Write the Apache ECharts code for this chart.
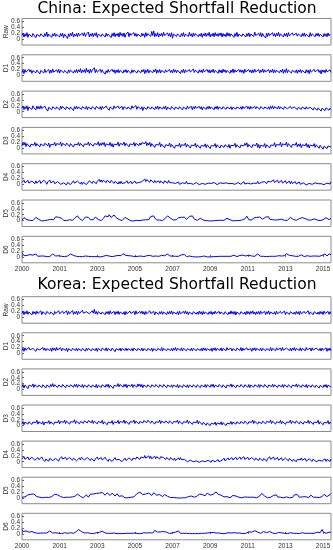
<!DOCTYPE html>
<html><head><meta charset="utf-8">
<script src="https://cdn.jsdelivr.net/npm/echarts@6/dist/echarts.min.js"></script>
<style>html,body{margin:0;padding:0;background:#fff}#c{width:333px;height:550px}</style>
</head><body><div id="c"></div>
<script>
const xTickLabels = ['2000','2001','2003','2005','2007','2009','2011','2013','2015'];
const xTickPositions = [0,38,76,114,152,190,228,266,304];
const panelNames = ['Raw','D1','D2','D3','D4','D5','D6'];
const yTicks = [0,0.2,0.4,0.6];
const groupTitles = ['China: Expected Shortfall Reduction','Korea: Expected Shortfall Reduction'];

const chinaRaw = [.12,.2,.07,.18,.1,.22,.06,.17,.11,.21,.08,.19,.13,.23,.05,.16,.1,.2,.09,.18,
.14,.22,.07,.19,.1,.24,.08,.17,.12,.2,.06,.18,.11,.21,.09,.16,.13,.22,.07,.19,
.1,.2,.05,.17,.12,.21,.02,.18,.09,.2,.11,.23,.07,.17,.1,.19,.08,.21,.12,.18,
.06,.2,.11,.22,.09,.17,.13,.24,.07,.18,.1,.2,.08,.19,.12,.22,.06,.17,.11,.21,
.09,.18,.13,.23,.07,.2,.1,.17,.12,.21,.05,.19,.1,.22,.08,.18,.11,.2,.07,.23,
.12,.19,.09,.21,.06,.17,.11,.24,.08,.2,.13,.18,.07,.22,.1,.19,.09,.17,.12,.21,
.08,.2,.11,.18,.06,.22,.1,.19,.13,.21,.09,.26,.12,.28,.08,.19,.1,.22,.07,.18,
.11,.2,.09,.23,.12,.18,.06,.21,.1,.19,.08,.22,.03,.17,.11,.2,.09,.18,.12,.21,
.07,.19,.1,.22,.08,.17,.12,.2,.09,.23,.11,.18,.07,.21,.1,.19,.13,.22,.08,.17,
.1,.2,.06,.18,.11,.21,.09,.19,.12,.23,.07,.17,.1,.2,.08,.22,.11,.18,.09,.2,
.12,.21,.07,.19,.1,.17,.08,.22,.11,.2,.09,.18,.13,.21,.06,.19,.1,.23,.08,.17,
.11,.2,.09,.18,.12,.22,.07,.19,.1,.21,.08,.17,.11,.2,.09,.24,.12,.18,.07,.2,
.1,.22,.08,.19,.11,.17,.04,.2,.09,.21,.12,.18,.07,.22,.1,.19,.08,.2,.11,.23,
.09,.18,.12,.21,.07,.19,.1,.2,.08,.22,.11,.17,.09,.21,.13,.19,.07,.2,.1,.18,
.12,.23,.08,.19,.1,.21,.09,.17,.11,.2,.07,.22,.1,.18,.12,.21,.08,.19,.11,.2,
.09,.17,.12,.22,.07,.19,.1,.18,.08,.21,.11,.17,.1];
const chinaD1 = [.1,.18,.06,.2,.11,.17,.08,.21,.12,.19,.07,.16,.1,.22,.09,.18,.13,.2,.05,.17,
.11,.19,.08,.21,.1,.16,.12,.2,.07,.18,.09,.22,.11,.17,.06,.19,.1,.21,.08,.18,
.12,.2,.09,.17,.11,.22,.07,.19,.1,.18,.13,.21,.08,.17,.1,.2,.09,.19,.12,.23,
.08,.18,.11,.2,.09,.24,.12,.19,.07,.21,.1,.18,.13,.26,.09,.2,.11,.17,.08,.21,
.1,.19,.12,.18,.04,.16,.09,.2,.11,.17,.08,.21,.12,.19,.07,.18,.1,.2,.09,.17,
.12,.21,.08,.18,.11,.2,.09,.17,.13,.22,.07,.19,.1,.18,.12,.2,.08,.17,.11,.21,
.09,.19,.12,.2,.06,.18,.1,.21,.08,.17,.11,.2,.09,.19,.12,.22,.07,.18,.1,.2,
.08,.17,.11,.21,.09,.19,.12,.18,.07,.2,.1,.17,.08,.21,.11,.19,.09,.18,.12,.2,
.06,.17,.1,.21,.08,.19,.12,.18,.09,.2,.11,.17,.07,.22,.1,.18,.12,.2,.08,.19,
.11,.18,.09,.21,.12,.17,.07,.2,.1,.19,.08,.18,.11,.21,.09,.17,.12,.2,.07,.19,
.1,.18,.08,.21,.12,.19,.09,.17,.11,.2,.07,.18,.1,.22,.09,.19,.12,.17,.08,.2,
.11,.19,.1,.18,.07,.21,.12,.17,.09,.2,.11,.18,.08,.19,.1,.21,.12,.17,.09,.2,
.08,.18,.11,.22,.1,.19,.12,.17,.07,.2,.09,.18,.11,.21,.08,.19,.1,.17,.12,.2,
.09,.18,.11,.21,.07,.19,.1,.23,.09,.18,.12,.2,.08,.17,.11,.21,.1,.19,.07,.18,
.11,.2,.09,.17,.12,.21,.08,.19,.1,.18,.06,.2,.11,.17,.09,.21,.12,.18,.08,.2,
.1,.17,.05,.19,.11,.18,.09,.2,.12,.17,.07,.19,.1];
const chinaD2 = [.12,.19,.07,.17,.1,.2,.04,.16,.11,.18,.08,.2,.13,.17,.06,.19,.1,.18,.09,.2,
.11,.17,.08,.19,.12,.18,.02,.15,.1,.19,.07,.17,.12,.2,.09,.16,.11,.18,.06,.19,
.1,.18,.12,.2,.07,.17,.11,.19,.08,.16,.12,.18,.04,.17,.1,.19,.09,.16,.12,.21,
.08,.17,.11,.19,.1,.18,.07,.16,.12,.2,.09,.17,.11,.19,.08,.18,.12,.2,.1,.17,
.07,.18,.11,.16,.09,.19,.12,.17,.05,.16,.1,.18,.08,.2,.12,.17,.09,.19,.11,.16,
.1,.18,.07,.17,.12,.19,.09,.16,.11,.18,.08,.2,.12,.17,.1,.21,.08,.17,.11,.19,
.09,.17,.04,.15,.1,.18,.08,.17,.11,.19,.09,.16,.12,.18,.07,.17,.1,.19,.08,.16,
.11,.18,.09,.17,.1,.19,.06,.15,.1,.18,.08,.17,.11,.19,.07,.16,.1,.18,.09,.17,
.12,.18,.06,.16,.1,.17,.08,.19,.11,.16,.09,.18,.07,.17,.1,.19,.12,.17,.08,.18,
.1,.17,.06,.16,.11,.18,.08,.17,.1,.19,.09,.16,.11,.18,.07,.17,.1,.19,.08,.16,
.11,.18,.09,.17,.12,.2,.08,.16,.11,.18,.1,.17,.07,.15,.11,.18,.09,.16,.12,.19,
.1,.17,.08,.18,.11,.16,.09,.19,.1,.17,.08,.18,.11,.16,.09,.18,.1,.17,.12,.19,
.08,.17,.11,.18,.09,.16,.12,.19,.1,.17,.08,.18,.11,.2,.09,.17,.12,.18,.1,.19,
.09,.16,.11,.18,.08,.17,.12,.19,.1,.16,.09,.18,.11,.17,.08,.16,.1,.18,.07,.15,
.1,.17,.08,.16,.11,.18,.09,.17,.1,.16,.07,.15,.09,.17,.06,.14,.08,.15,.05,.13,
.07,.14,.02,.12,.06,.15,.04,.13,.07,.16,.05,.12,.08];
const chinaD3 = [.08,.17,.1,.19,.05,.15,.09,.18,.03,.13,.08,.17,.1,.19,.06,.15,.09,.18,.04,.14,
.1,.18,.07,.16,.12,.2,.08,.17,.02,.12,.09,.17,.11,.19,.07,.15,.1,.18,.12,.2,
.06,.16,.1,.19,.08,.17,.12,.2,.05,.15,.09,.18,.03,.13,.08,.17,.11,.19,.07,.16,
.1,.18,.04,.14,.09,.17,.12,.2,.08,.16,.1,.18,.06,.15,.09,.17,.12,.21,.07,.16,
.09,.18,.11,.19,.05,.14,.08,.17,.1,.19,.06,.15,.03,.13,.08,.17,.11,.2,.06,.15,
.09,.18,.12,.2,.07,.16,.1,.18,.04,.14,.08,.17,.11,.19,.06,.16,.12,.21,.08,.17,
.1,.18,.12,.2,.15,.22,.08,.17,.1,.19,.05,.15,.09,.17,.02,.12,.07,.16,.1,.19,
.04,.13,.07,.16,.01,.11,.05,.15,.08,.17,.03,.12,.06,.14,-.01,.09,.04,.13,.07,.16,
.02,.11,.06,.15,.09,.17,.03,.12,.07,.15,.0,.1,.04,.13,.08,.16,.02,.11,.06,.14,
-.01,.09,.03,.12,.06,.14,.01,.11,.05,.13,-.02,.08,.03,.12,.07,.15,.01,.11,.05,.13,
.0,.1,.05,.13,.02,.11,.07,.15,.03,.12,-.01,.09,.04,.13,.08,.16,.02,.11,.06,.14,
.0,.1,.04,.13,.07,.16,.09,.18,.03,.12,.06,.14,.01,.11,.05,.13,.08,.17,.02,.12,
-.01,.09,.03,.12,.06,.15,.01,.11,.05,.13,.0,.1,.05,.14,.09,.18,.03,.12,.07,.16,
.1,.19,.04,.14,.08,.17,.11,.2,.05,.15,.09,.18,.02,.12,.07,.16,.1,.19,.04,.13,
.06,.15,.01,.11,.05,.14,.08,.16,.03,.12,.0,.1,.04,.13,.07,.15,.02,.11,.05,.13,
-.01,.09,.03,.11,-.04,.06,.01,.08,-.02,.07,.04,.12,.03];
const chinaD4 = [.06,.08,.14,.05,.05,.06,.13,.04,.04,.03,.11,.11,.1,.02,.12,.04,.04,.05,.13,.03,
.05,.06,.14,.08,.07,.0,.08,.08,.15,.05,.05,.04,.11,.02,.03,.01,.09,.08,.07,.0,
.06,-.01,.05,.04,.04,-.02,.06,.06,.07,-.01,.05,.05,.12,.04,.04,.03,.11,.1,.08,.01,
.08,.0,.07,.07,.06,-.01,.05,.05,.12,.11,.1,.03,.11,.1,.09,.02,.1,.09,.17,.08,
.15,.07,.14,.14,.13,.06,.14,.13,.12,.05,.13,.12,.11,.03,.1,.09,.08,.01,.09,.02,
.1,.03,.04,.04,.05,.05,.12,.03,.04,.02,.1,.02,.03,.03,.11,.04,.05,.05,.06,.07,
.08,.09,.1,.11,.18,.09,.16,.15,.14,.07,.15,.13,.12,.05,.13,.06,.06,.05,.12,.04,
.11,.11,.1,.03,.12,.12,.11,.04,.13,.06,.06,.05,.05,.04,.04,.03,.03,.01,.08,.0,
.06,.05,.05,-.01,.05,.03,.1,.02,.04,.03,.03,.01,.08,.0,.02,.0,.06,.05,.05,-.01,
.04,.03,.03,.01,.08,.0,.03,.02,.04,-.02,.05,.03,.04,-.01,.06,.05,.05,-.01,.04,.03,
.05,-.01,.04,.03,.04,-.02,.05,.04,.11,.02,.04,.03,.03,.01,.08,.0,.06,.06,.06,.0,
.07,.0,.03,.02,.09,.01,.04,.03,.04,.02,.1,.01,.03,.02,.04,.04,.05,.03,.1,.02,
.08,.07,.07,.01,.09,.09,.08,.02,.1,.1,.09,.08,.08,.07,.15,.06,.07,.07,.14,.05,
.06,.06,.13,.04,.05,.05,.12,.03,.04,.04,.11,.02,.1,.03,.04,.02,.09,.01,.03,.02,
.08,.0,.06,-.01,.05,.03,.04,-.02,.04,.02,.03,.01,.08,.0,.02,-.01,.05,.03,.04,.02,
.03,.01,.02,.0,.07,-.01,.05,.04,.04,.02,.1,.01,.09];
const chinaD5 = [.02,.05,.1,.07,.09,.03,.0,.02,.01,.04,.02,.0,.01,.05,.11,.08,.12,.04,.01,.0,
-.01,.01,.03,.0,.02,.05,.02,.0,.01,.04,.02,.05,.03,.07,.13,.09,.15,.11,.06,.13,
.08,.03,.01,.0,.02,.0,-.01,.01,.03,.02,.0,.01,.04,.08,.14,.1,.16,.12,.07,.03,
.01,.0,.02,.05,.12,.09,.15,.11,.06,.03,.02,.05,.03,.08,.12,.07,.1,.04,.01,.02,
.0,.03,.07,.12,.16,.11,.18,.13,.2,.15,.11,.17,.13,.19,.14,.1,.15,.08,.04,.02,
.01,.0,.03,.06,.11,.07,.09,.05,.02,.0,-.01,.01,.0,-.01,.0,.02,.01,.0,-.01,.0,
.01,.0,.02,.0,.01,.03,.02,.05,.03,.08,.14,.18,.12,.16,.09,.04,.02,.01,.0,.02,
.01,.03,.0,.02,.05,.09,.13,.16,.11,.14,.08,.12,.05,.02,.04,.01,.03,.06,.1,.12,
.08,.11,.05,.09,.12,.07,.04,.02,.09,.14,.18,.12,.16,.1,.05,.02,.0,.01,.03,.02,
.08,.11,.06,.02,.0,.01,.0,-.01,.0,-.01,.01,.0,-.01,.0,.01,.0,-.01,.0,.01,.0,
.0,.01,.0,.02,.01,.03,.06,.08,.04,.07,.03,.01,.0,-.01,.0,.01,.0,.02,.01,.0,
.01,.0,.02,.04,.01,.06,.12,.15,.09,.03,.01,.03,.02,.05,.09,.13,.08,.11,.06,.1,
.12,.07,.1,.05,.03,.06,.12,.15,.1,.13,.05,.02,.01,.03,.01,.0,.02,.0,.01,.03,
.06,.09,.05,.07,.03,.01,.0,.02,.01,.03,.07,.11,.06,.09,.04,.02,.0,.01,.03,.02,
.07,.12,.08,.1,.05,.11,.07,.09,.04,.02,.01,.0,.02,.01,.04,.06,.03,.05,.02,.0,
.01,.0,.02,.01,.03,.02,.06,.1,.07,.09,.03,.04,.08];
const chinaD6 = [.15,.09,.04,.02,.03,.05,.02,.04,.08,.05,.1,.06,.03,.07,.1,.06,.02,.04,.01,.03,
.02,.01,.03,.02,.04,.01,.02,.03,.01,.04,.07,.1,.06,.08,.03,.01,.02,.04,.01,.03,
.02,.05,.03,.01,.02,.0,.03,.01,.06,.1,.07,.11,.05,.08,.04,.02,.01,.03,.01,.0,
.02,.01,.0,.01,.03,.01,.0,.02,.01,.0,.01,.02,.0,.01,.03,.02,.01,.04,.02,.0,
.01,.03,.02,.01,.03,.05,.02,.01,.03,.02,.04,.01,.02,.0,.03,.06,.09,.05,.1,.07,
.04,.08,.11,.06,.09,.05,.07,.1,.04,.02,.01,.03,.02,.0,.01,.03,.01,.02,.04,.01,
.03,.02,.05,.01,.03,.02,.04,.01,.02,.05,.03,.01,.02,.04,.02,.03,.01,.04,.02,.01,
.03,.05,.02,.01,.04,.03,.07,.1,.06,.03,.02,.01,.03,.02,.05,.02,.01,.03,.02,.0,
.04,.07,.09,.05,.08,.03,.01,.02,.01,.03,.02,.0,.01,.02,.01,.0,.02,.01,.0,.01,
.02,.01,.0,.01,.03,.01,.02,.0,.01,.02,.0,.01,.02,.01,.0,.02,.01,.0,.01,.02,
.01,.0,.02,.01,.03,.02,.01,.0,.02,.01,.03,.02,.04,.02,.06,.03,.02,.01,.03,.02,
.05,.08,.04,.06,.1,.05,.03,.07,.09,.06,.04,.02,.03,.01,.04,.02,.05,.03,.1,.06,
.04,.02,.03,.01,.02,.04,.02,.01,.03,.05,.02,.01,.03,.02,.04,.01,.02,.03,.01,.04,
.02,.05,.03,.01,.02,.04,.08,.11,.07,.09,.05,.1,.06,.04,.09,.05,.02,.01,.03,.02,
.04,.02,.07,.04,.02,.01,.03,.02,.04,.03,.01,.02,.04,.01,.03,.02,.05,.03,.02,.04,
.02,.01,.03,.05,.02,.04,.1,.06,.03,.07,.1,.05,.08];

const koreaRaw = [.13,.21,.09,.19,.12,.22,.1,.18,.14,.23,.08,.2,.12,.19,.1,.21,.13,.18,.11,.22,
.09,.19,.13,.21,.1,.2,.14,.23,.11,.18,.12,.21,.08,.2,.13,.19,.1,.22,.12,.18,
.1,.21,.13,.19,.11,.22,.09,.2,.12,.18,.14,.23,.1,.19,.12,.21,.09,.2,.13,.18,
.11,.24,.14,.2,.1,.19,.13,.21,.12,.18,.09,.22,.14,.27,.12,.2,.1,.19,.13,.22,
.11,.18,.13,.21,.09,.19,.12,.2,.1,.22,.13,.18,.11,.2,.09,.19,.12,.21,.1,.18,
.13,.22,.11,.19,.08,.2,.12,.18,.1,.21,.13,.19,.11,.2,.09,.22,.12,.18,.1,.2,
.13,.21,.11,.19,.09,.2,.12,.18,.1,.22,.13,.19,.11,.2,.08,.18,.12,.21,.1,.19,
.12,.2,.1,.18,.13,.21,.09,.19,.11,.2,.12,.22,.1,.18,.13,.2,.11,.19,.09,.21,
.12,.18,.1,.2,.13,.22,.11,.19,.09,.18,.12,.21,.1,.19,.13,.2,.11,.18,.1,.21,
.12,.19,.09,.2,.11,.18,.13,.22,.1,.19,.12,.2,.09,.18,.11,.21,.13,.19,.1,.2,
.11,.18,.12,.21,.1,.19,.13,.2,.09,.18,.11,.22,.12,.19,.1,.2,.08,.18,.12,.21,
.1,.19,.13,.2,.11,.18,.09,.21,.12,.19,.1,.2,.13,.22,.11,.18,.09,.19,.12,.2,
.1,.21,.13,.18,.11,.2,.09,.19,.12,.22,.1,.18,.13,.2,.11,.19,.09,.21,.12,.18,
.1,.2,.13,.19,.11,.21,.09,.18,.12,.2,.1,.19,.13,.22,.11,.18,.1,.2,.12,.19,
.09,.21,.12,.18,.1,.2,.13,.19,.11,.22,.1,.18,.12,.2,.09,.19,.13,.21,.11,.18,
.1,.2,.12,.19,.09,.21,.13,.18,.11,.2,.1,.19,.12];
const koreaD1 = [.1,.17,.07,.19,.11,.16,.08,.2,.12,.18,.09,.17,.11,.21,.07,.16,.1,.19,.12,.17,
.08,.2,.11,.18,.09,.16,.12,.21,.1,.17,.07,.19,.11,.18,.09,.2,.12,.16,.1,.19,
.08,.17,.11,.2,.1,.18,.06,.16,.11,.19,.09,.17,.12,.2,.1,.18,.08,.16,.11,.19,
.09,.17,.12,.21,.08,.18,.1,.17,.11,.2,.09,.16,.12,.19,.1,.18,.07,.17,.11,.2,
.09,.18,.12,.16,.1,.19,.08,.17,.11,.2,.09,.18,.12,.17,.06,.16,.1,.19,.11,.18,
.08,.17,.12,.2,.1,.18,.09,.16,.11,.19,.1,.17,.08,.18,.12,.2,.09,.17,.11,.19,
.1,.18,.08,.16,.11,.19,.09,.17,.12,.2,.1,.18,.07,.16,.11,.19,.09,.17,.12,.18,
.1,.2,.08,.17,.11,.18,.09,.16,.12,.19,.1,.17,.08,.18,.11,.2,.09,.17,.12,.18,
.1,.19,.08,.17,.11,.18,.09,.16,.12,.2,.1,.18,.08,.17,.11,.19,.09,.16,.12,.18,
.1,.17,.08,.19,.11,.18,.09,.16,.12,.2,.1,.17,.07,.18,.11,.19,.09,.17,.12,.18,
.1,.19,.08,.17,.11,.18,.09,.2,.12,.17,.1,.18,.08,.16,.11,.19,.09,.18,.12,.17,
.1,.2,.08,.18,.11,.17,.09,.19,.12,.18,.1,.16,.07,.18,.11,.19,.09,.17,.12,.2,
.1,.18,.08,.17,.11,.19,.09,.16,.12,.18,.1,.2,.08,.17,.11,.18,.09,.19,.12,.17,
.1,.18,.08,.2,.11,.17,.09,.18,.12,.19,.1,.17,.08,.18,.11,.2,.09,.17,.12,.18,
.1,.19,.08,.17,.11,.18,.09,.2,.12,.17,.1,.18,.08,.19,.11,.17,.09,.18,.12,.2,
.1,.17,.08,.18,.11,.16,.09,.19,.07,.17,.1,.18,.09];
const koreaD2 = [.09,.17,.05,.15,.1,.18,.03,.14,.09,.17,.11,.19,.07,.16,.1,.18,.08,.15,.12,.19,
.07,.16,.1,.18,.05,.15,.11,.19,.08,.17,.1,.2,.09,.16,.11,.18,.07,.15,.1,.19,
.08,.17,.11,.18,.06,.15,.1,.19,.09,.16,.12,.2,.08,.17,.1,.18,.07,.16,.11,.19,
.09,.17,.06,.15,.1,.18,.08,.16,.11,.19,.07,.15,.1,.18,.08,.17,.05,.14,.1,.18,
.07,.16,.11,.19,.08,.17,.1,.18,.06,.15,.09,.17,.04,.14,.08,.16,.11,.2,.09,.17,
.12,.21,.08,.17,.1,.18,.06,.15,.09,.17,.11,.18,.07,.16,.1,.17,.08,.19,.11,.18,
.09,.17,.06,.15,.11,.19,.08,.16,.1,.18,.07,.16,.12,.22,.09,.17,.11,.19,.07,.16,
.1,.18,.08,.17,.11,.19,.06,.15,.1,.18,.09,.16,.07,.15,.11,.19,.09,.17,.05,.14,
.09,.17,.07,.16,.1,.18,.08,.16,.06,.15,.11,.19,.08,.16,.1,.18,.07,.16,.1,.17,
.06,.15,.11,.19,.09,.17,.07,.16,.12,.2,.08,.17,.1,.18,.07,.15,.1,.18,.09,.17,
.11,.19,.07,.16,.1,.18,.05,.15,.09,.17,.11,.19,.08,.16,.1,.18,.06,.15,.1,.18,
.09,.17,.11,.19,.07,.16,.1,.18,.08,.17,.06,.15,.1,.19,.08,.16,.11,.18,.09,.17,
.07,.16,.1,.18,.08,.17,.11,.19,.06,.15,.09,.17,.1,.18,.08,.16,.11,.19,.07,.15,
.1,.18,.09,.17,.07,.16,.11,.19,.08,.16,.1,.18,.06,.15,.09,.17,.11,.19,.08,.16,
.1,.18,.07,.16,.11,.19,.09,.17,.06,.15,.1,.18,.08,.16,.11,.19,.07,.15,.09,.17,
.05,.14,.1,.18,.07,.16,.09,.17,.06,.15,.1,.17,.08];
const koreaD3 = [.06,.14,.03,.12,.08,.16,.05,.13,.09,.17,.04,.12,.07,.15,.1,.18,.05,.13,.08,.16,
.06,.14,.02,.11,.07,.15,.09,.17,.05,.13,.08,.16,.04,.12,.07,.15,.1,.18,.06,.14,
.09,.17,.11,.19,.07,.15,.1,.18,.05,.13,.09,.17,.12,.2,.07,.15,.1,.18,.06,.14,
.11,.19,.08,.16,.12,.2,.09,.17,.13,.21,.1,.18,.07,.15,.1,.18,.06,.14,.09,.17,
.1,.18,.05,.13,.08,.16,.03,.12,.07,.15,.09,.17,.04,.12,.07,.15,.1,.18,.06,.14,
.08,.16,.11,.19,.07,.15,.09,.17,.04,.13,.08,.16,.12,.19,.07,.15,.1,.18,.06,.14,
.12,.2,.09,.17,.14,.22,.1,.18,.12,.19,.08,.16,.1,.17,.05,.13,.08,.16,.11,.19,
.07,.15,.1,.18,.09,.16,.12,.2,.08,.16,.1,.18,.06,.14,.09,.17,.12,.19,.07,.15,
.1,.18,.05,.13,.08,.16,.11,.19,.07,.14,.09,.17,.04,.12,.07,.15,.1,.18,.06,.14,
.08,.16,.03,.11,.05,.13,.01,.09,.03,.11,.0,.08,.02,.1,.05,.12,.01,.09,.03,.11,
.05,.13,.02,.1,.04,.12,.0,.08,.03,.11,.06,.14,.04,.12,.07,.15,.05,.13,.08,.16,
.06,.14,.09,.17,.07,.15,.1,.18,.05,.13,.08,.16,.11,.19,.07,.15,.09,.17,.05,.13,
.09,.17,.07,.15,.1,.18,.06,.14,.08,.16,.11,.19,.07,.15,.09,.17,.05,.13,.08,.16,
.1,.18,.06,.14,.09,.17,.04,.12,.08,.16,.11,.19,.07,.15,.1,.18,.08,.16,.11,.18,
.06,.14,.09,.17,.05,.13,.08,.16,.1,.18,.07,.15,.09,.17,.04,.12,.08,.16,.1,.18,
.05,.13,.08,.16,.03,.11,.07,.15,.09,.17,.05,.12,.08];
const koreaD4 = [.1,.1,.17,.08,.08,.09,.16,.07,.07,.08,.15,.14,.13,.05,.06,.06,.14,.07,.07,.08,
.16,.08,.08,.01,.09,.09,.1,.02,.11,.11,.12,.04,.04,.03,.11,.1,.09,.02,.1,.1,
.17,.09,.09,.08,.15,.07,.07,.06,.14,.14,.13,.05,.12,.12,.11,.03,.05,.05,.13,.06,
.15,.14,.14,.06,.07,.07,.14,.13,.12,.04,.11,.11,.1,.02,.09,.09,.16,.08,.08,.07,
.14,.06,.07,.07,.15,.08,.08,.01,.09,.08,.08,.01,.07,.07,.14,.06,.06,.0,.08,.07,
.07,.0,.06,.05,.12,.04,.05,.05,.13,.12,.11,.04,.12,.11,.18,.09,.16,.16,.15,.08,
.16,.15,.14,.13,.21,.12,.13,.13,.2,.11,.18,.1,.11,.11,.19,.1,.17,.17,.16,.09,
.17,.16,.14,.14,.15,.07,.14,.14,.13,.06,.14,.13,.12,.05,.12,.04,.05,.05,.13,.06,
.14,.07,.08,.01,.08,.07,.07,.0,.06,.05,.05,-.01,.06,.0,.02,.01,.03,.02,.04,-.02,
.04,.03,.03,.01,.02,.0,.06,-.01,.05,.04,.04,-.02,.05,-.01,.06,.0,.02,.01,.07,.0,
.06,.05,.05,.04,.12,.03,.05,.05,.13,.06,.07,.07,.14,.06,.07,.08,.15,.07,.08,.09,
.16,.08,.09,.09,.17,.08,.08,.07,.15,.07,.07,.06,.14,.14,.13,.05,.12,.12,.11,.04,
.12,.11,.1,.03,.11,.1,.09,.02,.1,.09,.17,.08,.09,.09,.16,.07,.07,.06,.14,.05,
.06,.06,.13,.04,.05,.05,.12,.11,.1,.03,.11,.1,.09,.01,.08,.08,.07,.0,.08,.07,
.07,.06,.13,.05,.05,.04,.11,.02,.04,.03,.1,.09,.08,.01,.09,.08,.07,.0,.06,.06,
.05,.04,.11,.02,.04,.03,.1,.01,.08,.08,.07,.01,.09];
const koreaD5 = [.02,.0,.01,.03,.01,.05,.1,.14,.08,.12,.15,.09,.13,.07,.11,.04,.01,.0,.02,.01,
.03,.0,.01,.04,.02,.06,.03,.01,.0,.02,.04,.02,.08,.12,.07,.14,.1,.15,.08,.04,
.02,.0,.01,.03,.05,.02,.01,.0,.02,.04,.01,.03,.0,.02,.06,.1,.13,.08,.11,.05,
.02,.01,.0,.03,.06,.1,.05,.02,.07,.12,.15,.1,.13,.17,.11,.15,.19,.13,.16,.1,
.14,.18,.12,.15,.09,.13,.17,.11,.14,.08,.12,.16,.1,.13,.06,.1,.14,.09,.05,.02,
.04,.07,.03,.01,.0,.02,.01,.0,.03,.01,.02,.0,.01,.03,.06,.09,.14,.1,.17,.19,
.13,.16,.11,.15,.09,.13,.18,.12,.16,.1,.14,.08,.12,.17,.11,.15,.09,.13,.07,.11,
.05,.08,.04,.07,.11,.06,.09,.05,.02,.04,.01,.03,.0,.01,.0,-.01,.0,.01,.0,-.01,
.0,.01,.0,.0,.01,.0,.02,.01,.04,.07,.1,.06,.08,.04,.02,.01,.03,.06,.1,.13,
.09,.14,.11,.15,.1,.07,.12,.16,.11,.14,.09,.13,.08,.12,.17,.13,.2,.16,.12,.18,
.14,.09,.13,.06,.03,.01,.02,.04,.01,.03,.0,.02,.05,.08,.04,.1,.06,.09,.05,.02,
.04,.01,.0,.02,.01,.03,.01,.0,.02,.01,.03,.02,.01,.0,.02,.04,.01,.0,.02,.03,
.06,.11,.15,.09,.12,.06,.03,.01,.0,.02,.04,.02,.01,.03,.08,.13,.06,.1,.03,.01,
.0,.02,.04,.01,.0,.02,.01,.03,.05,.02,.0,.01,.03,.01,.06,.1,.13,.08,.11,.05,
.02,.0,.01,.03,.02,.01,.04,.02,.0,.01,.03,.06,.09,.04,.02,.01,.03,.02,.05,.03,
.01,.0,.02,.04,.08,.12,.07,.1,.04,.02,.06,.11,.15];
const koreaD6 = [.15,.08,.04,.07,.1,.05,.09,.06,.1,.04,.08,.05,.02,.04,.03,.01,.02,.04,.01,.03,
.02,.01,.03,.02,.01,.03,.02,.04,.1,.06,.09,.03,.01,.02,.04,.01,.03,.02,.0,.02,
.01,.03,.02,.04,.01,.03,.02,.0,.02,.04,.01,.03,.02,.05,.03,.08,.12,.15,.1,.13,
.08,.12,.06,.03,.01,.02,.04,.01,.03,.02,.0,.02,.01,.03,.02,.04,.06,.1,.05,.08,
.04,.09,.06,.1,.03,.07,.04,.02,.01,.03,.02,.0,.01,.03,.02,.04,.01,.02,.03,.01,
.02,.0,.01,.02,.04,.02,.01,.0,.02,.03,.01,.02,.04,.01,.03,.02,.0,.01,.03,.02,
.01,.03,.02,.04,.01,.02,.03,.01,.02,.04,.02,.05,.03,.08,.12,.07,.1,.06,.09,.11,
.07,.1,.13,.08,.05,.09,.06,.03,.02,.01,.03,.02,.04,.01,.02,.06,.03,.08,.1,.05,
.02,.01,.03,.02,.0,.01,.02,.04,.02,.01,.03,.02,.01,.0,.02,.01,.03,.02,.01,.02,
.04,.02,.01,.03,.02,.0,.01,.03,.02,.01,.04,.06,.03,.05,.02,.01,.03,.02,.01,.03,
.02,.04,.01,.03,.02,.01,.03,.02,.04,.01,.02,.03,.01,.02,.04,.02,.01,.03,.02,.01,
.03,.02,.04,.01,.02,.03,.02,.05,.03,.07,.04,.1,.06,.09,.05,.11,.07,.1,.06,.08,
.04,.02,.06,.03,.08,.05,.02,.04,.07,.05,.08,.04,.06,.03,.02,.04,.01,.03,.02,.05,
.03,.02,.04,.01,.03,.02,.05,.02,.01,.03,.02,.04,.01,.03,.02,.01,.03,.02,.04,.02,
.01,.03,.02,.04,.01,.03,.02,.01,.04,.02,.03,.01,.02,.05,.03,.02,.04,.02,.06,.03,
.02,.04,.08,.15,.07,.03,.05,.02,.04,.03,.06,.09,.05];

const groups = [
  [chinaRaw, chinaD1, chinaD2, chinaD3, chinaD4, chinaD5, chinaD6],
  [koreaRaw, koreaD1, koreaD2, koreaD3, koreaD4, koreaD5, koreaD6]
];

const FONT = 'Liberation Sans';
const LEFT = 22, RIGHT = 2, H = 26.5;
const groupTop = [18.5, 296.7];
const groupStep = [36.3, 36.1];
const titleY = [9, 285];

const grid = [], xAxis = [], yAxis = [], series = [], graphic = [];
let k = 0;
groups.forEach((g, gi) => {
  graphic.push({type:'text', x: 177, y: titleY[gi], style:{text: groupTitles[gi], font: '15.5px "DejaVu Sans"', fill:'#000', align:'center', verticalAlign:'middle'}});
  g.forEach((vals, pi) => {
    const top = groupTop[gi] + groupStep[gi] * pi;
    graphic.push({type:'text', x: 6.5, y: top + H / 2, rotation: Math.PI / 2,
      style:{text: panelNames[pi], font: '6.5px "' + FONT + '"', fill:'#333', align:'center', verticalAlign:'middle'}});
    grid.push({left: LEFT, right: RIGHT, top: top, height: H, show: true, borderColor: '#8c8c8c', borderWidth: 1, backgroundColor:'#fff', containLabel:false, outerBoundsMode:'none'});
    const last = pi === g.length - 1;
    xAxis.push({
      type:'value', gridIndex:k, min:0, max:312, interval:38,
      axisLine:{show:false}, splitLine:{show:false},
      axisTick:{show:last, inside:true, length:2, lineStyle:{color:'#666'}, customValues: xTickPositions},
      axisLabel:{show:last, fontSize:6.5, fontFamily:FONT, color:'#333', margin:3, customValues: xTickPositions,
        showMinLabel:true, showMaxLabel:true, hideOverlap:false,
        formatter: v => { const i = xTickPositions.indexOf(Math.round(v)); return i >= 0 ? xTickLabels[i] : ''; }}
    });
    yAxis.push({
      type:'value', gridIndex:k, min:-0.2, max:0.7, interval:0.2,
      axisLine:{show:false}, splitLine:{show:false},
      axisTick:{show:true, inside:true, length:2, lineStyle:{color:'#666'}, customValues: yTicks},
      axisLabel:{fontSize:6.5, fontFamily:FONT, color:'#333', margin:2,
        showMinLabel:true, showMaxLabel:true, hideOverlap:false,
        formatter: v => { const r = Math.round(v*10)/10; return yTicks.indexOf(r) >= 0 && Math.abs(v - r) < 1e-6 ? String(r) : ''; }}
    });
    series.push({
      type:'line', xAxisIndex:k, yAxisIndex:k, showSymbol:false, symbol:'none',
      data: vals.map((v, i) => [i, v]),
      lineStyle:{color:'#0000ff', width:1}, silent:true, clip:true
    });
    k++;
  });
});

const chart = echarts.init(document.getElementById('c'), null, {renderer:'canvas'});
chart.setOption({animation:false, backgroundColor:'#fff', grid, xAxis, yAxis, series, graphic});
</script></body></html>
